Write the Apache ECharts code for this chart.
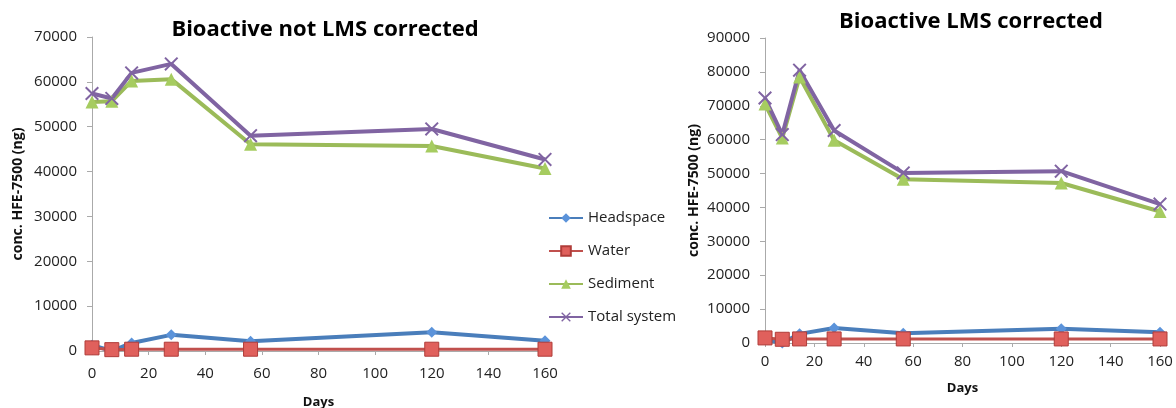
<!DOCTYPE html>
<html><head><meta charset="utf-8">
<script src="https://cdn.jsdelivr.net/npm/echarts@6/dist/echarts.min.js"></script>
<style>html,body{margin:0;padding:0;background:#fff}#c{width:1176px;height:408px}</style>
</head><body><div id="c"></div>
<script>
const days = [0, 7, 14, 28, 56, 120, 160];
const seriesNames = ['Headspace', 'Water', 'Sediment', 'Total system'];
// Left chart: Bioactive not LMS corrected
const leftHeadspace = [1300, 0, 1800, 3600, 2200, 4200, 2300];
const leftWater = [700, 300, 400, 400, 400, 400, 400];
const leftSediment = [55500, 55700, 60200, 60600, 46100, 45700, 40700];
const leftTotal = [57400, 56300, 62000, 64000, 48000, 49500, 42700];
// Right chart: Bioactive LMS corrected
const rightHeadspace = [1000, 0, 2700, 4400, 2900, 4200, 3200];
const rightWater = [1500, 1100, 1200, 1200, 1200, 1200, 1200];
const rightSediment = [70500, 60500, 78500, 59800, 48300, 47200, 38800];
const rightTotal = [72300, 61500, 80500, 62700, 50200, 50700, 41000];

const colors = ['#4A7EBB', '#C0504D', '#9BBB59', '#8064A2'];
const xPath = 'path://M1,0L5,4L9,0L10,1L6,5L10,9L9,10L5,6L1,10L0,9L4,5L0,1Z';
const font = 'Open Sans';

function pairs(vals){ return days.map((d,i)=>[d, vals[i]]); }
function mk(name, vals, gi){
  const i = seriesNames.indexOf(name);
  const sym = ['diamond','rect','triangle',xPath][i];
  const size = [11,14,13,14][i];
  const it = {color: colors[i]};
  if (i===1) { it.color = '#E0605C'; it.borderColor = '#B03C39'; it.borderWidth = 1; }
  if (i===0) { it.color = '#5B93DA'; }
  if (i===2) { it.color = '#A6CC60'; }
  return {
    type:'line', name, xAxisIndex:gi, yAxisIndex:gi, data:pairs(vals),
    symbol:sym, symbolSize:size, showSymbol:true,
    lineStyle:{color:colors[i], width: i===1?3:4},
    itemStyle:it, z: i===1?3:2, animation:false
  };
}
function xAxis(gi){
  return {gridIndex:gi, type:'value', min:0, max:160, interval:20,
    name:'Days', nameLocation:'middle', nameGap: gi===0?45:39,
    nameTextStyle:{fontFamily:font, fontWeight:'bold', fontSize:13, color:'#111'},
    axisLine:{show:true, lineStyle:{color:'#aaa'}},
    axisTick:{show:true, inside:false, length:4, lineStyle:{color:'#aaa'}},
    axisLabel:{fontFamily:font, fontSize:15, color:'#222', margin: gi===0?15:11},
    splitLine:{show:false}};
}
function yAxis(gi, max){
  return {gridIndex:gi, type:'value', min:0, max, interval:10000,
    name:'conc. HFE-7500 (ng)', nameLocation:'middle', nameRotate:90, nameGap: gi===0?67:64,
    nameTextStyle:{fontFamily:font, fontWeight:'bold', fontSize:14, color:'#111'},
    axisLine:{show:true, lineStyle:{color:'#aaa'}},
    axisTick:{show:true, inside:false, length:5, lineStyle:{color:'#aaa'}},
    axisLabel:{fontFamily:font, fontSize:15, color:'#222', margin:15, formatter: v => String(v)},
    splitLine:{show:false}};
}
const chart = echarts.init(document.getElementById('c'));
chart.setOption({
  backgroundColor:'#fff',
  title:[
    {text:'Bioactive not LMS corrected', left:320, top:14, textAlign:'center',
     textStyle:{fontFamily:font, fontWeight:'bold', fontSize:22, color:'#000'}},
    {text:'Bioactive LMS corrected', left:966, top:6, textAlign:'center',
     textStyle:{fontFamily:font, fontWeight:'bold', fontSize:22, color:'#000'}}
  ],
  grid:[
    {left:92, top:37, width:453, height:314, outerBoundsMode:'none', containLabel:false},
    {left:765, top:38, width:395, height:305, outerBoundsMode:'none', containLabel:false}
  ],
  legend:{orient:'vertical', left:548, top:208, padding:0, itemGap:13, itemWidth:34, itemHeight:12,
    data:seriesNames, textStyle:{fontFamily:font, fontSize:15, color:'#222', lineHeight:20}},
  xAxis:[xAxis(0), xAxis(1)],
  yAxis:[yAxis(0,70000), yAxis(1,90000)],
  series:[
    mk('Headspace', leftHeadspace, 0), mk('Water', leftWater, 0),
    mk('Sediment', leftSediment, 0), mk('Total system', leftTotal, 0),
    mk('Headspace', rightHeadspace, 1), mk('Water', rightWater, 1),
    mk('Sediment', rightSediment, 1), mk('Total system', rightTotal, 1)
  ]
});
</script></body></html>
